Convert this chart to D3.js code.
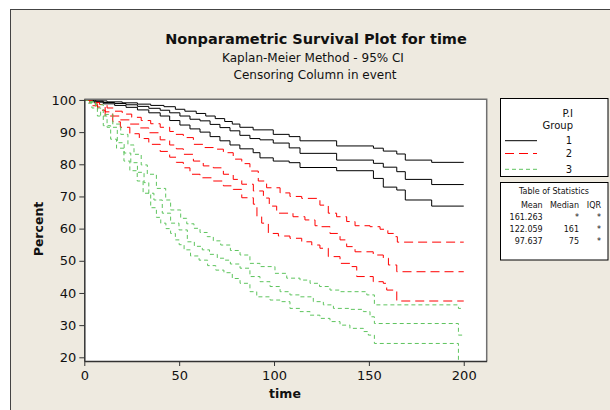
<!DOCTYPE html>
<html lang="en">
<head>
<meta charset="UTF-8">
<title>Nonparametric Survival Plot for time</title>
<style>
    body { margin: 0; background: #fff; }
    svg text { font-family: "DejaVu Sans", Verdana, sans-serif; fill: #111; }
</style>
</head>
<body>
<div id="chart"></div>
<script src="https://d3js.org/d3.v7.min.js"></script>
<script>
// ---- data ----
const xTicks = [0, 50, 100, 150, 200];
const yTicks = [20, 30, 40, 50, 60, 70, 80, 90, 100];
const groupNames = ["1", "2", "3"];
const statHeaders = ["Mean", "Median", "IQR"];
const statMean = ["161.263", "122.059", "97.637"];
const statMedian = ["*", "161", "75"];
const statIQR = ["*", "*", "*"];

// group 1: [time, percent] steps
const g1Upper = [[0,100],[6,99.7],[12,99.4],[20,99.1],[28,98.7],[35,98.3],[42,97.9],[48,97.1],[53,96.5],[59,95.8],[64,95.0],[69,94.2],[74,93.3],[78,92.5],[82,91.5],[89,90.7],[99.6,89.3],[108,88.6],[113.7,87.3],[133,85.7],[152.4,85.0],[157.6,84.1],[164.7,83.2],[169.2,81.3],[183.1,80.6],[200,80.6]];
const g1Mid = [[0,100],[5,99.6],[10,99.2],[16,98.9],[22,98.5],[28,98.0],[34,97.4],[40,96.8],[45,96.0],[50.4,95.0],[55.7,94.0],[61,93.5],[66.3,92.4],[71.5,91.4],[76.8,90.4],[82,89.0],[87.3,88.0],[92.6,87.6],[99.6,86.6],[108,85.1],[113.7,83.4],[133,81.3],[152.4,80.3],[157.6,79.1],[164.7,77.7],[169.2,75.3],[183.1,73.7],[200,73.7]];
const g1Lower = [[0,100],[5,99.3],[10,98.8],[16,98.3],[22,97.7],[28,96.9],[34,96.0],[40,95.0],[45,93.6],[50.4,92.2],[55.7,91.0],[61,90.0],[66.3,88.6],[71.5,87.3],[76.8,86.0],[82,84.8],[89,83.6],[92.6,82.0],[99.6,81.0],[108,80.5],[113.7,79.0],[133,78.0],[152.4,75.6],[157.6,72.9],[164.7,72.0],[169.2,68.9],[183.1,67.0],[200,67.0]];

// group 2
const g2Upper = [[0,100],[4,99.2],[8,98.6],[12,97.5],[16,96.5],[20,95.6],[25,94.6],[30,93.6],[35,92.6],[40,91.5],[45,90.2],[48,89.3],[52.2,88.3],[57.5,86.2],[62.7,85.2],[68,84.7],[73.3,83.6],[78.5,81.6],[83,80.2],[87.3,77.9],[91.7,74.8],[96.1,72.7],[103.2,71.1],[108.4,70.0],[114.6,69.4],[124.2,67.3],[128.6,64.8],[133,63.7],[138.3,62.2],[142.7,60.9],[150.6,60.6],[155.9,59.8],[160,58.5],[163,57.5],[165,55.8],[200,55.8]];
const g2Mid = [[0,100],[3,98.8],[7,97.8],[11,96.3],[15,95.0],[19,93.8],[24,92.5],[29,91.3],[34,89.8],[40,87.6],[45,86.0],[48.5,84.8],[52.2,83.1],[57.5,81.0],[62.7,79.5],[68,78.9],[73.3,76.9],[78.5,75.3],[83,73.8],[89.1,71.7],[94.4,69.5],[97.5,67.0],[101.4,64.8],[110,63.7],[116.3,62.7],[121.6,60.9],[125.1,60.6],[129.5,58.5],[134.8,56.5],[138.3,54.4],[142.7,52.8],[152.3,51.8],[157.6,50.8],[160.3,48.7],[164.7,46.6],[200,46.6]];
const g2Lower = [[0,100],[3,98.2],[7,96.8],[11,95.0],[15,93.2],[19,91.5],[24,89.5],[29,88.0],[34,86.2],[40,84.0],[45,82.2],[48.5,80.6],[52.2,78.9],[55.7,76.9],[61,75.8],[68,74.8],[73.3,73.3],[78.5,72.2],[83,69.6],[89.1,67.6],[91,63.7],[93.5,61.7],[97,58.5],[102.3,57.7],[108.4,57.0],[114.6,55.9],[119.9,54.9],[124.2,53.9],[128.6,51.3],[134.8,49.2],[140,48.2],[143.6,45.1],[152.3,43.5],[157.6,43.0],[159.4,40.9],[164.7,37.5],[200,37.5]];

// group 3
const g3Upper = [[0,100],[3,99.5],[6,98.5],[10,95.5],[15,92.5],[19.2,89.3],[23,86.0],[26.2,83.1],[30,79.8],[33.2,76.9],[38,72.5],[42.9,68.9],[45.5,65.8],[50.8,63.2],[54,61.5],[57.8,60.1],[61,58.8],[64.8,57.5],[68,56.2],[71.9,54.9],[77,53.2],[82.1,51.8],[87.3,49.2],[92.6,48.2],[100.5,46.1],[106.7,44.6],[113.7,44.0],[119,43.0],[124,42.0],[129.5,40.9],[134.8,40.4],[148.9,39.4],[152.9,36.3],[197.2,35.2],[200,35.2]];
const g3Mid = [[0,100],[3,99.2],[6,97.5],[8.6,95.0],[12,91.5],[17.4,86.7],[21,83.5],[24.5,80.5],[28,77.5],[31.5,74.3],[34,71.0],[36.7,68.9],[41.1,64.8],[45.5,61.7],[49.9,59.6],[54.3,55.9],[58,54.5],[62.2,53.4],[66,52.0],[70.1,50.8],[73.6,50.2],[77,49.0],[82.1,47.7],[87.3,45.1],[92.6,43.5],[97.9,42.0],[103.2,40.4],[108.4,39.4],[113.7,38.8],[120.7,37.3],[126,36.3],[131.3,35.2],[140,34.9],[147.1,34.2],[150.6,32.6],[152.9,30.5],[197.2,26.9],[200,26.9]];
const g3Lower = [[0,100],[2,99.0],[4,97.5],[6.9,95.0],[10,92.0],[13.9,87.8],[17,85.0],[20.9,81.0],[24,78.0],[27.9,74.8],[31,71.0],[35,66.5],[38,63.5],[40.3,61.7],[43,60.0],[45.5,58.5],[48,56.5],[50,55.0],[52.6,53.4],[56,51.5],[60.5,50.2],[65,48.5],[69.3,47.1],[73.6,46.3],[78,44.5],[82.1,43.0],[87.3,40.4],[90.9,38.8],[97.9,37.8],[103.2,37.3],[108.4,35.2],[113.7,34.2],[119,33.1],[124.2,32.1],[129.5,31.1],[134.8,30.0],[140,29.0],[147.1,28.0],[149.7,26.9],[152.9,24.3],[197.2,0]];

const groupCurves = [[g1Upper, g1Mid, g1Lower], [g2Upper, g2Mid, g2Lower], [g3Upper, g3Mid, g3Lower]];
const groupColors = ["#000000", "#ff0000", "#5ec45e"];
const groupDash = [null, "9,5", "4,3"];

// ---- layout ----
const width = 610, height = 410;
const plot = {left: 84.3, top: 99.3, right: 486.7, bottom: 361};

const svg = d3.select("#chart").append("svg")
    .attr("width", width)
    .attr("height", height);

// beige graph panel
svg.append("rect")
    .attr("x", 10.5).attr("y", 9.5)
    .attr("width", 640).attr("height", 440)
    .attr("fill", "#eeeae0")
    .attr("stroke", "#444");

// titles
svg.append("text")
    .attr("x", 316).attr("y", 44)
    .attr("text-anchor", "middle")
    .attr("font-size", "14.5px").attr("font-weight", "bold")
    .text("Nonparametric Survival Plot for time");
svg.append("text")
    .attr("x", 313).attr("y", 62)
    .attr("text-anchor", "middle").attr("font-size", "12px")
    .text("Kaplan-Meier Method - 95% CI");
svg.append("text")
    .attr("x", 315).attr("y", 79)
    .attr("text-anchor", "middle").attr("font-size", "12px")
    .text("Censoring Column in event");

// scales
const x = d3.scaleLinear().domain([0, 212.1]).range([plot.left, plot.right]);
const y = d3.scaleLinear().domain([18.85, 100.2]).range([plot.bottom, plot.top]);

// plot area
svg.append("rect")
    .attr("x", plot.left).attr("y", plot.top)
    .attr("width", plot.right - plot.left).attr("height", plot.bottom - plot.top)
    .attr("fill", "#fff");

svg.append("clipPath").attr("id", "clip")
    .append("rect")
    .attr("x", plot.left).attr("y", plot.top)
    .attr("width", plot.right - plot.left).attr("height", plot.bottom - plot.top);

const line = d3.line()
    .x(d => x(d[0]))
    .y(d => y(d[1]))
    .curve(d3.curveStepAfter);

const curves = svg.append("g").attr("clip-path", "url(#clip)");
groupCurves.forEach((set, i) => {
    set.forEach(pts => {
        curves.append("path")
            .datum(pts)
            .attr("d", line)
            .attr("fill", "none")
            .attr("stroke", groupColors[i])
            .attr("stroke-width", 1)
            .attr("stroke-dasharray", groupDash[i]);
    });
});

// frame top/right
svg.append("path")
    .attr("d", `M${plot.left},${plot.top}H${plot.right}V${plot.bottom}`)
    .attr("fill", "none")
    .attr("stroke", "#707070")
    .attr("stroke-width", 1.5);

// axes
const xAxis = svg.append("g")
    .attr("transform", `translate(0,${plot.bottom})`)
    .call(d3.axisBottom(x).tickValues(xTicks).tickSize(5).tickSizeOuter(0).tickPadding(5));
const yAxis = svg.append("g")
    .attr("transform", `translate(${plot.left},0)`)
    .call(d3.axisLeft(y).tickValues(yTicks).tickSize(5).tickSizeOuter(0).tickPadding(3));

[xAxis, yAxis].forEach(g => {
    g.select(".domain").attr("stroke", "#333").attr("stroke-width", 1.5);
    g.selectAll(".tick line").attr("stroke", "#333");
    g.selectAll(".tick text")
        .attr("font-size", "13px")
        .attr("font-family", "DejaVu Sans, Verdana, sans-serif")
        .attr("fill", "#111");
});

// axis titles
svg.append("text")
    .attr("x", 285).attr("y", 398)
    .attr("text-anchor", "middle")
    .attr("font-size", "12.5px").attr("font-weight", "bold")
    .text("time");
svg.append("text")
    .attr("transform", "translate(43,229) rotate(-90)")
    .attr("text-anchor", "middle")
    .attr("font-size", "12.5px").attr("font-weight", "bold")
    .text("Percent");

// legend box
const legend = svg.append("g");
legend.append("rect")
    .attr("x", 500.5).attr("y", 98.5)
    .attr("width", 107.5).attr("height", 78)
    .attr("fill", "#fff").attr("stroke", "#000");
legend.append("text").attr("x", 573).attr("y", 116.5)
    .attr("text-anchor", "end").attr("font-size", "10px").text("P.I");
legend.append("text").attr("x", 573).attr("y", 128.5)
    .attr("text-anchor", "end").attr("font-size", "10px").text("Group");
const legendRowY = [140.7, 153.5, 169.3];
groupNames.forEach((name, i) => {
    legend.append("line")
        .attr("x1", 505).attr("x2", 537)
        .attr("y1", legendRowY[i]).attr("y2", legendRowY[i])
        .attr("stroke", groupColors[i])
        .attr("stroke-dasharray", groupDash[i]);
    legend.append("text")
        .attr("x", 572).attr("y", legendRowY[i] + 3.5)
        .attr("text-anchor", "end").attr("font-size", "10px")
        .text(name);
});

// table of statistics
const table = svg.append("g");
table.append("rect")
    .attr("x", 500.5).attr("y", 182.5)
    .attr("width", 107.5).attr("height", 77.5)
    .attr("fill", "#fff").attr("stroke", "#000");
table.append("text").attr("x", 554).attr("y", 193.5)
    .attr("text-anchor", "middle").attr("font-size", "8px").text("Table of Statistics");
const colX = [542.7, 579, 601];
statHeaders.forEach((h, j) => {
    table.append("text").attr("x", colX[j]).attr("y", 208.3)
        .attr("text-anchor", "end").attr("font-size", "8px").text(h);
});
const rowY = [219.8, 232, 244.3];
groupNames.forEach((g, i) => {
    [statMean[i], statMedian[i], statIQR[i]].forEach((v, j) => {
        table.append("text").attr("x", colX[j]).attr("y", rowY[i])
            .attr("text-anchor", "end").attr("font-size", "8px").text(v);
    });
});
</script>
</body>
</html>
